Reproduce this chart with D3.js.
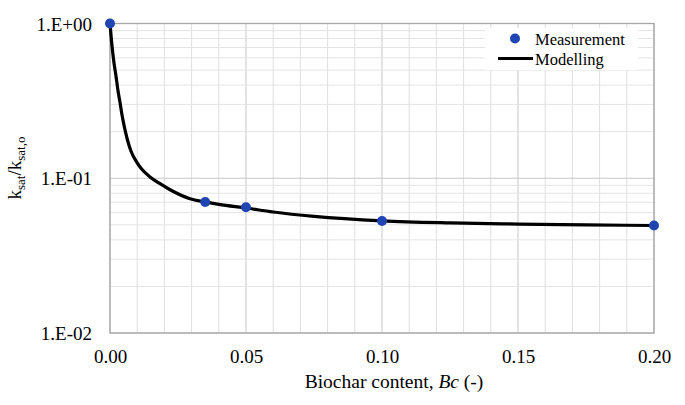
<!DOCTYPE html>
<html><head><meta charset="utf-8">
<script src="https://cdn.jsdelivr.net/npm/d3@7"></script>
<style>
html,body{margin:0;padding:0;background:#fff;}
svg text{font-family:'Liberation Serif';}
</style></head>
<body><svg id="c" width="685" height="405"></svg>
<script>
// Measurement data
const measBc = [0, 0.035, 0.05, 0.10, 0.20];
const measK = [1.0, 0.0703, 0.0650, 0.0530, 0.0495];
// Modelling curve
const modelBc = [0, 0.00074, 0.00147, 0.0022, 0.0029, 0.0037, 0.0044, 0.0052, 0.0063, 0.0077, 0.0096, 0.0114, 0.0147, 0.0184, 0.0221, 0.0294, 0.035, 0.040, 0.050, 0.060, 0.075, 0.100, 0.125, 0.150, 0.175, 0.200];
const modelK = [1.0, 0.716, 0.556, 0.458, 0.372, 0.307, 0.257, 0.218, 0.180, 0.150, 0.129, 0.116, 0.102, 0.0922, 0.0843, 0.0738, 0.0703, 0.0678, 0.0642, 0.0605, 0.0567, 0.0531, 0.0515, 0.0506, 0.0500, 0.0495];
const xTicks = [0, 0.05, 0.10, 0.15, 0.20];
const yTicks = [1, 0.1, 0.01];
const yTickLabels = ["1.E+00", "1.E-01", "1.E-02"];
const legendLabels = ["Measurement", "Modelling"];

const svg = d3.select("#c");
const L = 110, R = 654, T = 23.5, B = 333;
const x = d3.scaleLinear().domain([0, 0.2]).range([L, R]);
const y = d3.scaleLog().domain([0.01, 1]).range([B, T]);

// grid
const g = svg.append("g");
const minorX = d3.range(0, 21).map(i => i / 100);
g.selectAll(".vx").data(minorX).enter().append("line")
  .attr("x1", d => x(d)).attr("x2", d => x(d)).attr("y1", T).attr("y2", B)
  .attr("stroke", (d, i) => i % 5 === 0 ? "#c8c8c8" : "#dedede").attr("stroke-width", 1);
const minorY = [];
[0.01, 0.1].forEach(dec => { for (let m = 1; m <= 9; m++) minorY.push(dec * m); });
minorY.push(1);
g.selectAll(".hy").data(minorY).enter().append("line")
  .attr("y1", d => y(d)).attr("y2", d => y(d)).attr("x1", L).attr("x2", R)
  .attr("stroke", d => (Math.abs(Math.log10(d) - Math.round(Math.log10(d))) < 1e-9) ? "#c8c8c8" : "#e4e4e4")
  .attr("stroke-width", 1);

// border
svg.append("rect").attr("x", L).attr("y", T).attr("width", R - L).attr("height", B - T)
  .attr("fill", "none").attr("stroke", "#a6a6a6").attr("stroke-width", 1.3);

// axes labels
const xAxis = d3.axisBottom(x).tickValues(xTicks).tickFormat(d3.format(".2f")).tickSize(0).tickPadding(0);
const xa = svg.append("g").attr("transform", `translate(0,${B})`).call(xAxis).attr("font-family", null);
xa.select(".domain").remove();
xa.selectAll("text").attr("dy", null).attr("y", 30).attr("font-size", 19).attr("fill", "#000");

const yAxis = d3.axisLeft(y).tickValues(yTicks).tickFormat((d, i) => yTickLabels[i]).tickSize(0).tickPadding(0);
const ya = svg.append("g").attr("transform", `translate(${L},0)`).call(yAxis).attr("font-family", null);
ya.select(".domain").remove();
ya.selectAll("text").attr("x", -18).attr("dy", "0.35em").attr("font-size", 19).attr("fill", "#000");

// model line
const line = d3.line().x((d, i) => x(modelBc[i])).y((d, i) => y(modelK[i])).curve(d3.curveMonotoneX);
svg.append("path").datum(modelK).attr("d", line)
  .attr("fill", "none").attr("stroke", "#000").attr("stroke-width", 3.2);

// points
svg.selectAll(".pt").data(measK).enter().append("circle")
  .attr("cx", (d, i) => x(measBc[i])).attr("cy", d => y(d)).attr("r", 5)
  .attr("fill", "#1f45b3");

// legend
const lg = svg.append("g");
lg.append("rect").attr("x", 485).attr("y", 28).attr("width", 153).attr("height", 42).attr("fill", "#fff");
lg.append("circle").attr("cx", 515).attr("cy", 38.5).attr("r", 5).attr("fill", "#1f45b3");
lg.append("line").attr("x1", 498).attr("x2", 533).attr("y1", 58.5).attr("y2", 58.5).attr("stroke", "#000").attr("stroke-width", 3);
lg.append("text").attr("x", 535).attr("y", 44.5).attr("font-size", 16.5).text(legendLabels[0]);
lg.append("text").attr("x", 535).attr("y", 64.5).attr("font-size", 16.5).text(legendLabels[1]);

// axis titles
const xt = svg.append("text").attr("x", 394).attr("y", 388).attr("text-anchor", "middle").attr("font-size", 19.5);
xt.append("tspan").text("Biochar content, ");
xt.append("tspan").attr("font-style", "italic").text("Bc");
xt.append("tspan").text(" (-)");

const yt = svg.append("text").attr("transform", "translate(21,168) rotate(-90)").attr("text-anchor", "middle").attr("font-size", 19);
yt.append("tspan").text("k");
yt.append("tspan").attr("font-size", 13).attr("dy", 4).text("sat");
yt.append("tspan").attr("dy", -4).text("/k");
yt.append("tspan").attr("font-size", 13).attr("dy", 4).text("sat,o");
</script></body></html>
